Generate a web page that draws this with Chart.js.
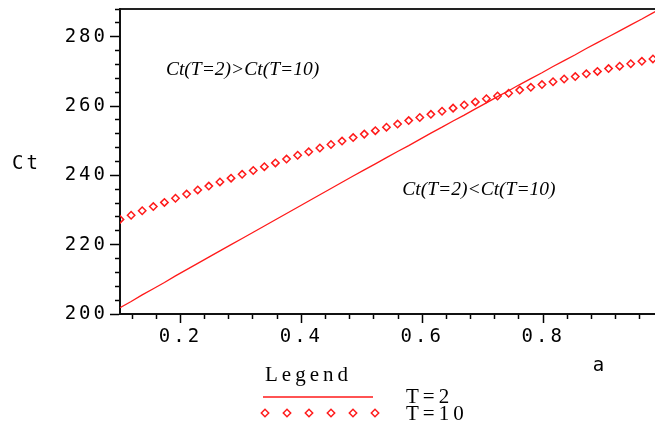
<!DOCTYPE html>
<html>
<head>
<meta charset="utf-8">
<script src="https://cdn.jsdelivr.net/npm/chart.js@4.4.1/dist/chart.umd.min.js"></script>
<style>
  html, body { margin: 0; padding: 0; background: #fff; }
  canvas { display: block; }
</style>
</head>
<body>
<canvas id="ctChart" width="655" height="428"></canvas>
<script>
// sample points in a (50 points over 0.1 .. 1)
var aValues = [0.1000, 0.1184, 0.1367, 0.1551, 0.1735, 0.1918, 0.2102, 0.2286, 0.2469, 0.2653,
               0.2837, 0.3020, 0.3204, 0.3388, 0.3571, 0.3755, 0.3939, 0.4122, 0.4306, 0.4490,
               0.4673, 0.4857, 0.5041, 0.5224, 0.5408, 0.5592, 0.5776, 0.5959, 0.6143, 0.6327,
               0.6510, 0.6694, 0.6878, 0.7061, 0.7245, 0.7429, 0.7612, 0.7796, 0.7980, 0.8163,
               0.8347, 0.8531, 0.8714, 0.8898, 0.9082, 0.9265, 0.9449, 0.9633, 0.9816, 1.0000];
var ctT2 = [201.8, 203.6, 205.5, 207.3, 209.1, 211.0, 212.8, 214.6, 216.4, 218.2,
            220.0, 221.8, 223.6, 225.4, 227.2, 229.0, 230.8, 232.6, 234.4, 236.2,
            238.0, 239.8, 241.6, 243.3, 245.1, 246.9, 248.6, 250.4, 252.2, 253.9,
            255.7, 257.4, 259.2, 260.9, 262.7, 264.4, 266.2, 267.9, 269.6, 271.4,
            273.1, 274.8, 276.6, 278.3, 280.0, 281.7, 283.4, 285.1, 286.9, 288.6];
var ctT10 = [227.3, 228.5, 229.8, 231.0, 232.2, 233.4, 234.6, 235.8, 236.9, 238.1,
             239.2, 240.3, 241.4, 242.5, 243.6, 244.7, 245.8, 246.8, 247.9, 248.9,
             249.9, 250.9, 251.9, 252.9, 253.9, 254.8, 255.8, 256.7, 257.6, 258.5,
             259.4, 260.3, 261.2, 262.1, 262.9, 263.7, 264.6, 265.4, 266.2, 267.0,
             267.8, 268.5, 269.3, 270.0, 270.8, 271.5, 272.2, 272.9, 273.6, 274.2];
var seriesNames = ['T=2', 'T=10'];

var xMajorTicks = [0.2, 0.4, 0.6, 0.8];
var xMinorTicks = [0.12, 0.16, 0.24, 0.28, 0.32, 0.36, 0.44, 0.48, 0.52, 0.56,
                   0.64, 0.68, 0.72, 0.76, 0.84, 0.88, 0.92, 0.96];
var yMajorTicks = [200, 220, 240, 260, 280];
var yMinorTicks = [204, 208, 212, 216, 224, 228, 232, 236, 244, 248,
                   252, 256, 264, 268, 272, 276, 284, 288];

var noteTexts = ['Ct(T=2)>Ct(T=10)', 'Ct(T=2)<Ct(T=10)'];
var noteA = [0.176, 0.567];
var noteCt = [270.4, 235.8];

var RED = '#ff1a1a';
var monoFont = '"DejaVu Sans Mono", monospace';
var serifFont = '"Liberation Serif", "Times New Roman", serif';

function toPoints(ys) {
  return aValues.map(function (a, i) { return { x: a, y: ys[i] }; });
}
function fixTicks(list) {
  return function (scale) {
    scale.ticks = list.map(function (v) { return { value: v }; });
  };
}
// fixed box size, no extra room for labels hanging past the ends
function fixSize(w, h) {
  return function (s) {
    if (w !== null) s.width = w;
    if (h !== null) s.height = h;
    s.paddingTop = s.paddingBottom = s.paddingLeft = s.paddingRight = 0;
  };
}

// text the axes can't draw: axis names, region notes and the legend box
var extras = {
  id: 'extras',
  beforeDraw: function (chart) {
    chart.ctx.letterSpacing = '3px';
  },
  afterDraw: function (chart) {
    var ctx = chart.ctx;
    var xs = chart.scales.x, ys = chart.scales.y, area = chart.chartArea;
    ctx.save();
    ctx.fillStyle = '#000';
    ctx.textBaseline = 'middle';

    ctx.letterSpacing = '3px';
    ctx.font = '19px ' + monoFont;
    ctx.textAlign = 'left';
    ctx.fillText('Ct', 12, (area.top + area.bottom) / 2 + 3);
    ctx.textAlign = 'center';
    ctx.fillText('a', 600, 366);

    ctx.letterSpacing = '0px';
    ctx.font = 'italic 19.5px ' + serifFont;
    ctx.textAlign = 'left';
    noteTexts.forEach(function (t, i) {
      ctx.fillText(t, xs.getPixelForValue(noteA[i]), ys.getPixelForValue(noteCt[i]));
    });

    var ds = chart.data.datasets;
    ctx.letterSpacing = '4px';
    ctx.font = '21px ' + serifFont;
    ctx.fillText('Legend', 265, 375);

    ctx.strokeStyle = ds[0].borderColor;
    ctx.lineWidth = ds[0].borderWidth;
    ctx.beginPath();
    ctx.moveTo(263, 397);
    ctx.lineTo(373, 397);
    ctx.stroke();
    ctx.fillText(ds[0].label, 406, 397);

    ctx.strokeStyle = ds[1].pointBorderColor;
    ctx.lineWidth = ds[1].pointBorderWidth;
    for (var k = 0; k < 6; k++) {
      ctx.fillStyle = 'rgba(0,0,0,0)';
      Chart.helpers.drawPoint(ctx, {
        pointStyle: ds[1].pointStyle, radius: ds[1].pointRadius,
        borderWidth: ds[1].pointBorderWidth, rotation: 0
      }, 265 + k * 22, 413);
    }
    ctx.fillStyle = '#000';
    ctx.fillText(ds[1].label, 406, 414);
    ctx.restore();
  }
};

new Chart(document.getElementById('ctChart'), {
  type: 'line',
  data: {
    datasets: [
      {
        label: seriesNames[0],
        data: toPoints(ctT2),
        borderColor: RED,
        borderWidth: 1.3,
        pointRadius: 0,
        tension: 0,
        fill: false
      },
      {
        label: seriesNames[1],
        data: toPoints(ctT10),
        showLine: false,
        pointStyle: 'rectRot',
        pointRadius: 3.7,
        pointBorderWidth: 1.5,
        pointBorderColor: RED,
        pointBackgroundColor: 'rgba(0,0,0,0)',
        borderColor: RED
      }
    ]
  },
  options: {
    responsive: false,
    devicePixelRatio: 1,
    animation: false,
    layout: { padding: 0, autoPadding: false },
    plugins: {
      legend: { display: false },
      tooltip: { enabled: false }
    },
    scales: {
      x: {
        type: 'linear', position: 'bottom', axis: 'x', weight: 1,
        min: 0.1, max: 0.985,
        afterBuildTicks: fixTicks(xMajorTicks),
        afterFit: fixSize(null, 114),
        ticks: {
          color: '#000', font: { family: monoFont, size: 19 }, padding: 3,
          maxRotation: 0, autoSkip: false,
          callback: function (v) { return v.toFixed(1); }
        },
        grid: { drawOnChartArea: false, tickLength: 9, tickWidth: 1.5, tickColor: '#000' },
        border: { display: true, color: '#111', width: 2 }
      },
      xMinor: {
        type: 'linear', position: 'bottom', axis: 'x', weight: 0,
        min: 0.1, max: 0.985,
        afterBuildTicks: fixTicks(xMinorTicks),
        afterFit: fixSize(null, 0),
        ticks: { display: false },
        grid: { drawOnChartArea: false, tickLength: 5, tickWidth: 1.5, tickColor: '#000' },
        border: { display: false }
      },
      xTop: {
        type: 'linear', position: 'top', axis: 'x',
        min: 0.1, max: 0.985,
        afterFit: fixSize(null, 9),
        ticks: { display: false },
        grid: { drawOnChartArea: false, drawTicks: false },
        border: { display: true, color: '#222', width: 2 }
      },
      y: {
        type: 'linear', position: 'left', axis: 'y', weight: 1,
        min: 200, max: 288,
        afterBuildTicks: fixTicks(yMajorTicks),
        afterFit: fixSize(120, null),
        ticks: { color: '#000', font: { family: monoFont, size: 19 }, padding: 2 },
        grid: { drawOnChartArea: false, tickLength: 10, tickWidth: 1.5, tickColor: '#000' },
        border: { display: true, color: '#111', width: 2 }
      },
      yMinor: {
        type: 'linear', position: 'left', axis: 'y', weight: 0,
        min: 200, max: 288,
        afterBuildTicks: fixTicks(yMinorTicks),
        afterFit: fixSize(0, null),
        ticks: { display: false },
        grid: { drawOnChartArea: false, tickLength: 5, tickWidth: 1.5, tickColor: '#000' },
        border: { display: false }
      }
    }
  },
  plugins: [extras]
});
</script>
</body>
</html>
